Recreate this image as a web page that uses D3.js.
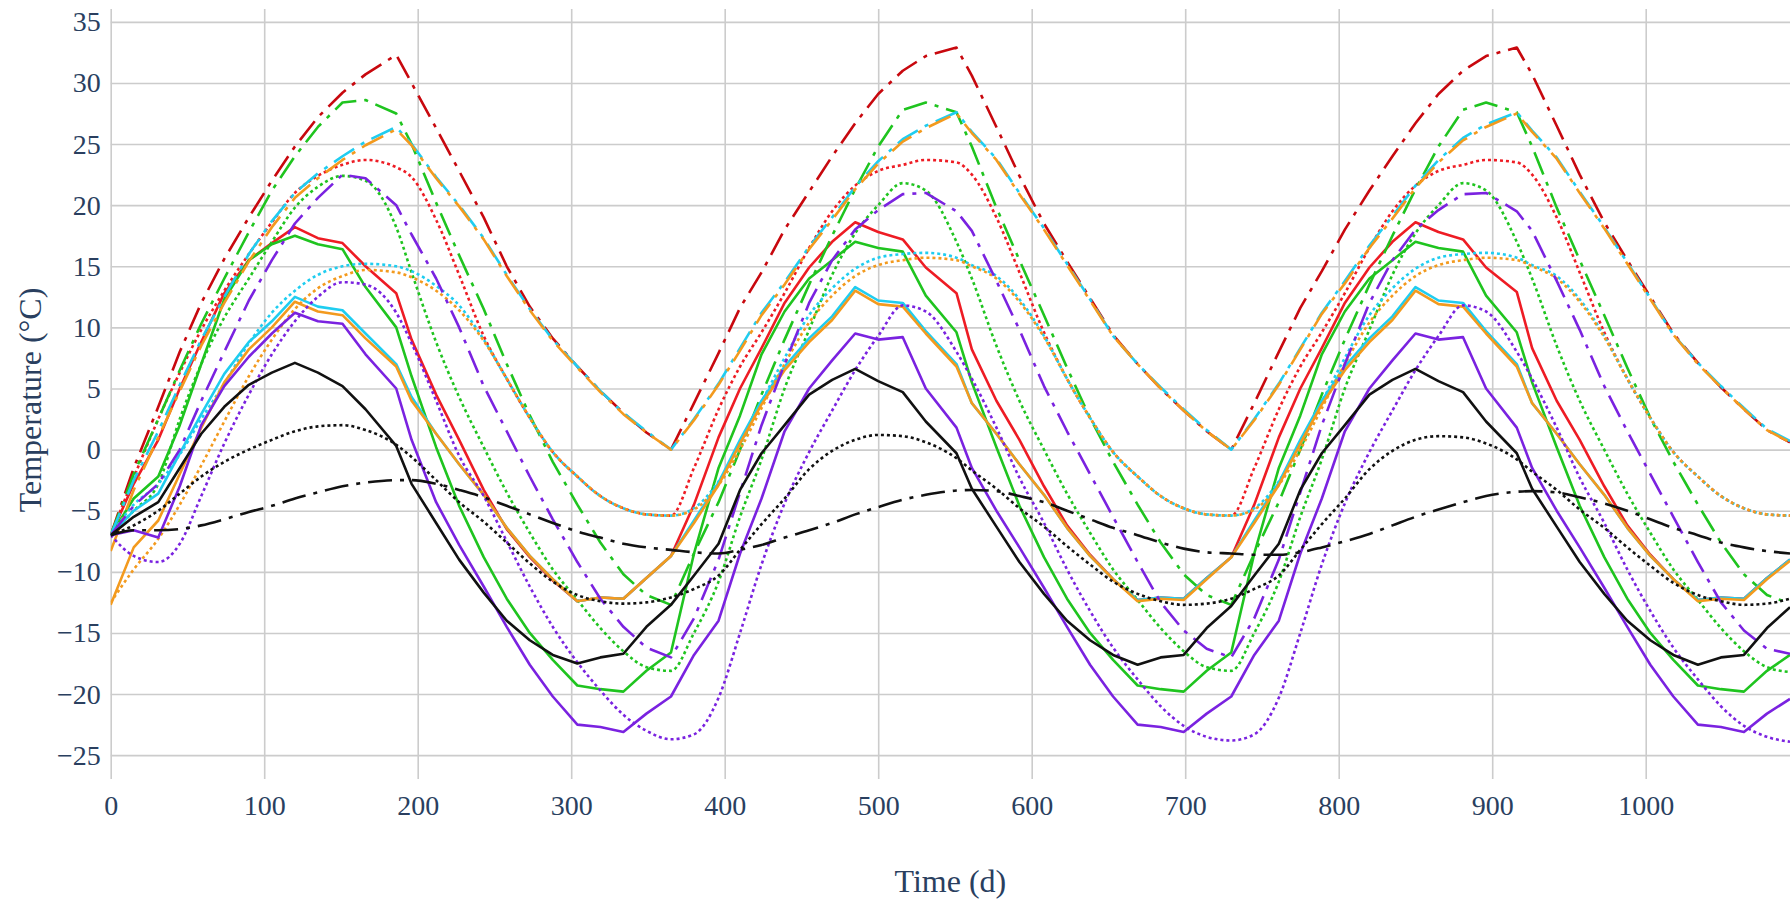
<!DOCTYPE html>
<html>
<head>
<meta charset="utf-8">
<script src="https://cdn.jsdelivr.net/npm/d3@7"></script>
<style>
  html, body { margin: 0; padding: 0; background: #ffffff; }
  svg { display: block; }
</style>
</head>
<body>
<svg id="chart" width="1790" height="902"></svg>
<script>
// Sample days (three annual cycles)
const days = [
  0, 15, 31, 45, 59, 74, 90, 105, 120, 135, 151, 166, 186, 196, 212, 227, 243, 258, 273, 288, 304, 319, 334, 349,
  365, 380, 396, 410, 424, 439, 455, 470, 485, 500, 516, 531, 551, 561, 577, 592, 608, 623, 638, 653, 669, 684, 699, 714,
  730, 745, 761, 775, 789, 804, 820, 835, 850, 865, 881, 896, 916, 926, 942, 957, 973, 988, 1003, 1018, 1034, 1049, 1064, 1079,
  1094
];

// Temperature series (°C)
const redSolid = [
  -7.0, -2.8, 0.8, 5.0, 8.8, 12.8, 15.5, 16.9, 18.2, 17.3, 16.9, 15.0, 12.8, 9.0, 4.5, 0.8, -3.3, -6.5, -8.8, -10.7, -12.4, -12.1, -12.2, -10.5,
  -8.7, -4.5, 1.0, 5.0, 8.3, 12.0, 14.9, 17.0, 18.6, 17.8, 17.2, 14.9, 12.8, 8.2, 4.0, 0.8, -3.0, -6.2, -8.6, -10.6, -12.3, -12.1, -12.2, -10.5,
  -8.8, -4.5, 1.0, 5.0, 8.3, 12.0, 14.9, 17.0, 18.6, 17.8, 17.2, 14.9, 12.9, 8.3, 4.0, 0.8, -3.0, -6.2, -8.6, -10.6, -12.3, -12.1, -12.2, -10.5,
  -9.0
];
const redDot = [
  -7.0, -2.3, 2.5, 6.3, 9.8, 13.0, 16.0, 18.6, 21.0, 22.4, 23.3, 23.7, 23.1, 22.3, 18.8, 14.3, 9.3, 5.8, 2.6, -0.2, -2.2, -3.8, -4.8, -5.3,
  -5.4, -1.5, 3.3, 6.8, 9.6, 12.8, 16.5, 19.5, 21.6, 22.8, 23.3, 23.7, 23.5, 22.5, 19.0, 14.5, 9.6, 5.8, 2.6, -0.2, -2.2, -3.8, -4.8, -5.3,
  -5.4, -1.5, 3.3, 6.8, 9.6, 12.8, 16.5, 19.5, 21.6, 22.8, 23.3, 23.7, 23.5, 22.5, 19.0, 14.5, 9.6, 5.8, 2.6, -0.2, -2.2, -3.8, -4.8, -5.3,
  -5.4
];
const redDashDot = [
  -7.0, -1.5, 3.5, 8.0, 12.0, 15.6, 19.0, 22.0, 24.8, 27.2, 29.2, 30.7, 32.3, 30.0, 26.3, 22.8, 19.0, 15.0, 11.7, 9.1, 6.8, 4.8, 3.0, 1.4,
  0.0, 3.8, 7.9, 11.6, 14.5, 18.0, 21.1, 24.0, 26.7, 29.1, 31.0, 32.2, 32.9, 30.6, 26.4, 22.4, 18.5, 15.4, 12.4, 9.4, 7.0, 5.0, 3.2, 1.5,
  0.0, 3.8, 8.0, 11.6, 14.6, 18.0, 21.2, 24.0, 26.7, 29.1, 31.0, 32.2, 32.9, 30.7, 26.5, 22.5, 18.6, 15.5, 12.5, 9.5, 7.1, 5.1, 3.3, 1.6,
  0.6
];
const greenSolid = [
  -7.0, -4.0, -2.2, 2.0, 7.0, 12.3, 15.5, 16.8, 17.5, 16.8, 16.4, 13.3, 10.0, 6.0, 0.2, -4.6, -8.8, -12.2, -15.0, -17.2, -19.3, -19.6, -19.8, -18.1,
  -16.6, -8.5, -1.5, 2.8, 7.8, 11.3, 14.0, 15.5, 17.0, 16.5, 16.2, 12.6, 9.6, 5.5, 0.2, -4.6, -8.8, -12.2, -15.0, -17.2, -19.3, -19.6, -19.8, -18.1,
  -16.6, -8.5, -1.5, 2.8, 7.8, 11.3, 14.0, 15.5, 17.0, 16.5, 16.2, 12.6, 9.6, 5.5, 0.2, -4.6, -8.8, -12.2, -15.0, -17.2, -19.3, -19.6, -19.8, -18.1,
  -16.8
];
const greenDot = [
  -7.0, -5.0, -2.8, 2.5, 7.0, 10.8, 14.0, 17.0, 19.8, 21.5, 22.4, 22.0, 18.2, 14.5, 8.8, 4.3, 0.2, -3.5, -6.8, -9.8, -12.3, -14.6, -16.5, -17.8,
  -18.1, -15.0, -10.8, -5.5, -0.8, 5.0, 9.8, 14.3, 17.7, 20.0, 21.8, 21.2, 17.0, 14.0, 8.5, 4.0, 0.0, -3.6, -6.8, -9.8, -12.3, -14.6, -16.5, -17.8,
  -18.1, -15.0, -10.8, -5.5, -0.8, 5.0, 9.8, 14.3, 17.7, 20.0, 21.8, 21.2, 17.0, 14.0, 8.5, 4.0, 0.0, -3.6, -6.8, -9.8, -12.3, -14.6, -16.5, -17.8,
  -18.2
];
const greenDashDot = [
  -7.0, -2.0, 2.5, 6.5, 10.3, 14.0, 17.8, 21.2, 24.0, 26.4, 28.4, 28.6, 27.5, 25.0, 20.2, 15.9, 11.5, 7.0, 2.8, -1.0, -4.5, -7.6, -10.2, -11.9,
  -12.7, -8.5, -4.3, 0.0, 4.5, 9.0, 13.5, 17.5, 21.3, 24.8, 27.8, 28.4, 27.6, 24.8, 19.8, 15.5, 11.0, 6.7, 2.6, -1.0, -4.5, -7.6, -10.2, -11.9,
  -12.7, -8.5, -4.3, 0.0, 4.5, 9.0, 13.5, 17.5, 21.3, 24.8, 27.8, 28.4, 27.6, 24.8, 19.8, 15.5, 11.0, 6.7, 2.6, -1.0, -4.5, -7.6, -10.2, -11.9,
  -12.6
];
const cyanSolid = [
  -7.0, -5.0, -3.6, -0.3, 2.9, 6.2, 8.8, 10.5, 12.5, 11.7, 11.4, 9.5, 7.0, 4.3, 1.3, -1.2, -3.7, -6.4, -8.7, -10.6, -12.4, -12.1, -12.2, -10.5,
  -8.7, -5.8, -2.7, 0.8, 4.0, 6.8, 9.1, 10.9, 13.3, 12.2, 12.0, 9.7, 7.0, 3.8, 1.3, -1.2, -3.7, -6.4, -8.7, -10.6, -12.3, -12.1, -12.2, -10.5,
  -8.8, -5.8, -2.7, 0.8, 4.0, 6.8, 9.1, 10.9, 13.3, 12.2, 12.0, 9.7, 7.0, 3.8, 1.3, -1.2, -3.7, -6.4, -8.7, -10.6, -12.3, -12.1, -12.2, -10.5,
  -9.0
];
const cyanDot = [
  -7.0, -4.5, -2.8, -0.4, 2.5, 5.4, 8.7, 11.2, 13.0, 14.3, 15.0, 15.2, 15.0, 14.6, 13.4, 11.8, 9.0, 5.8, 2.6, -0.2, -2.2, -3.8, -4.8, -5.3,
  -5.4, -4.8, -2.6, 0.4, 3.9, 7.5, 11.0, 13.2, 14.8, 15.7, 16.0, 16.1, 15.7, 15.1, 14.2, 12.3, 9.3, 5.8, 2.6, -0.2, -2.2, -3.8, -4.8, -5.3,
  -5.4, -4.8, -2.6, 0.4, 3.9, 7.5, 11.0, 13.2, 14.8, 15.7, 16.0, 16.1, 15.7, 15.1, 14.2, 12.3, 9.3, 5.8, 2.6, -0.2, -2.2, -3.8, -4.8, -5.3,
  -5.4
];
const cyanDashDot = [
  -7.0, -2.5, 1.5, 5.3, 9.0, 12.5, 16.0, 18.7, 21.0, 22.6, 24.0, 25.2, 26.4, 25.0, 22.3, 20.0, 17.3, 14.3, 11.5, 9.0, 6.8, 4.8, 3.0, 1.5,
  0.0, 2.5, 5.4, 8.3, 11.2, 13.7, 16.6, 19.0, 21.5, 23.6, 25.4, 26.5, 27.6, 26.0, 23.8, 21.0, 18.1, 15.2, 12.3, 9.3, 7.0, 5.1, 3.3, 1.6,
  0.0, 2.5, 5.4, 8.3, 11.2, 13.8, 16.7, 19.1, 21.6, 23.7, 25.5, 26.6, 27.6, 26.1, 23.9, 21.1, 18.2, 15.3, 12.4, 9.4, 7.1, 5.2, 3.4, 1.7,
  0.7
];
const orangeSolid = [
  -12.7, -8.0, -5.8, -2.0, 1.8, 5.5, 8.2, 10.0, 12.1, 11.3, 11.0, 9.1, 6.8, 4.0, 1.3, -1.2, -3.7, -6.4, -8.7, -10.6, -12.4, -12.1, -12.2, -10.5,
  -8.7, -6.0, -2.9, 0.5, 3.7, 6.5, 8.8, 10.6, 13.0, 11.9, 11.7, 9.5, 6.8, 3.8, 1.3, -1.2, -3.7, -6.4, -8.7, -10.6, -12.4, -12.2, -12.3, -10.6,
  -8.8, -6.0, -2.9, 0.5, 3.7, 6.5, 8.8, 10.6, 13.0, 11.9, 11.7, 9.5, 6.8, 3.8, 1.3, -1.2, -3.7, -6.4, -8.7, -10.6, -12.4, -12.2, -12.3, -10.6,
  -9.1
];
const orangeDot = [
  -12.5, -9.8, -7.3, -4.5, -1.3, 2.3, 6.0, 9.0, 11.5, 13.2, 14.2, 14.7, 14.5, 14.1, 13.0, 11.4, 8.9, 5.8, 2.6, -0.2, -2.2, -3.8, -4.8, -5.3,
  -5.4, -4.9, -2.9, 0.0, 3.4, 7.0, 10.4, 12.6, 14.2, 15.1, 15.5, 15.7, 15.5, 15.0, 14.0, 12.1, 9.2, 5.8, 2.6, -0.2, -2.2, -3.8, -4.8, -5.3,
  -5.4, -4.9, -2.9, 0.0, 3.4, 7.0, 10.4, 12.6, 14.2, 15.1, 15.5, 15.7, 15.5, 15.0, 14.0, 12.1, 9.2, 5.8, 2.6, -0.2, -2.2, -3.8, -4.8, -5.3,
  -5.4
];
const orangeDashDot = [
  -8.3, -3.3, 1.0, 4.8, 8.5, 12.0, 15.4, 18.2, 20.6, 22.2, 23.7, 24.9, 26.2, 24.9, 22.2, 19.9, 17.2, 14.2, 11.4, 8.9, 6.7, 4.7, 2.9, 1.4,
  0.0, 2.4, 5.3, 8.1, 11.0, 13.5, 16.4, 18.8, 21.3, 23.4, 25.2, 26.3, 27.5, 25.9, 23.7, 20.9, 18.0, 15.1, 12.2, 9.3, 7.0, 5.0, 3.2, 1.5,
  0.0, 2.4, 5.3, 8.2, 11.1, 13.6, 16.5, 18.9, 21.4, 23.5, 25.3, 26.4, 27.5, 26.0, 23.8, 21.0, 18.1, 15.2, 12.3, 9.4, 7.0, 5.1, 3.3, 1.6,
  0.6
];
const purpleSolid = [
  -7.0, -6.6, -7.2, -3.0, 2.0, 5.2, 7.6, 9.5, 11.2, 10.5, 10.3, 7.8, 5.0, 0.8, -4.3, -7.8, -11.2, -14.5, -17.6, -20.2, -22.5, -22.7, -23.1, -21.6,
  -20.2, -16.8, -14.0, -8.5, -4.0, 1.5, 5.0, 7.3, 9.5, 9.0, 9.2, 5.0, 1.8, -1.5, -5.0, -8.0, -11.3, -14.5, -17.6, -20.2, -22.5, -22.7, -23.1, -21.6,
  -20.2, -16.8, -14.0, -8.5, -4.0, 1.5, 5.0, 7.3, 9.5, 9.0, 9.2, 5.0, 1.8, -1.5, -5.0, -8.0, -11.3, -14.5, -17.6, -20.2, -22.5, -22.7, -23.1, -21.6,
  -20.4
];
const purpleDot = [
  -7.0, -8.7, -9.2, -7.7, -3.8, 0.5, 4.5, 7.8, 10.5, 12.5, 13.7, 13.5, 11.2, 8.7, 4.0, -0.5, -3.8, -7.5, -11.2, -14.5, -17.4, -19.7, -21.7, -23.0,
  -23.7, -23.3, -20.3, -15.0, -9.4, -4.4, -0.2, 3.2, 6.5, 9.3, 11.8, 11.3, 8.0, 5.8, 1.8, -2.3, -6.0, -9.8, -13.2, -16.2, -18.8, -21.0, -22.6, -23.5,
  -23.8, -23.3, -20.3, -15.0, -9.4, -4.4, -0.2, 3.2, 6.5, 9.3, 11.8, 11.3, 8.0, 5.8, 1.8, -2.3, -6.0, -9.8, -13.2, -16.2, -18.8, -21.0, -22.6, -23.5,
  -23.9
];
const purpleDashDot = [
  -7.0, -4.6, -2.8, 0.0, 4.0, 8.0, 12.2, 15.5, 18.5, 20.6, 22.5, 22.2, 20.0, 17.6, 14.0, 10.0, 5.2, 1.5, -2.2, -5.7, -9.2, -12.2, -14.5, -16.2,
  -17.0, -13.8, -9.0, -3.5, 2.0, 7.0, 12.0, 15.5, 18.0, 19.6, 20.9, 21.0, 19.5, 17.9, 13.8, 9.8, 5.2, 1.5, -2.0, -5.5, -9.2, -12.5, -14.8, -16.3,
  -17.0, -13.8, -9.0, -3.5, 2.0, 7.0, 12.0, 15.5, 18.0, 19.6, 20.9, 21.0, 19.5, 17.9, 13.8, 9.8, 5.2, 1.5, -2.0, -5.5, -9.2, -12.5, -14.8, -16.3,
  -16.7
];
const blackSolid = [
  -7.0, -5.5, -4.3, -1.5, 1.3, 3.5, 5.3, 6.3, 7.1, 6.3, 5.2, 3.3, 0.3, -2.8, -6.0, -9.0, -11.7, -14.0, -15.6, -16.8, -17.5, -17.0, -16.7, -14.5,
  -12.7, -10.3, -7.7, -3.3, -0.3, 2.0, 4.5, 5.7, 6.6, 5.6, 4.7, 2.3, -0.3, -3.2, -6.3, -9.2, -11.8, -14.0, -15.6, -16.8, -17.6, -17.0, -16.8, -14.6,
  -12.8, -10.3, -7.7, -3.3, -0.3, 2.0, 4.5, 5.7, 6.6, 5.6, 4.7, 2.3, -0.3, -3.2, -6.3, -9.2, -11.8, -14.0, -15.6, -16.8, -17.6, -17.0, -16.8, -14.6,
  -12.9
];
const blackDot = [
  -7.0, -6.2, -5.0, -3.6, -2.2, -1.0, 0.0, 0.8, 1.5, 1.9, 2.0, 1.6, 0.4, -0.6, -2.5, -4.3, -5.9, -7.6, -9.3, -10.8, -11.9, -12.4, -12.6, -12.5,
  -12.1, -11.4, -10.3, -8.2, -6.1, -4.0, -1.6, -0.1, 0.8, 1.2, 1.1, 0.6, -0.7, -1.7, -3.2, -4.8, -6.3, -7.9, -9.4, -10.8, -11.8, -12.4, -12.7, -12.6,
  -12.2, -11.4, -10.3, -8.2, -6.1, -4.0, -1.6, -0.1, 0.8, 1.1, 1.0, 0.5, -0.8, -1.8, -3.3, -4.9, -6.4, -8.0, -9.5, -10.9, -11.9, -12.4, -12.7, -12.6,
  -12.2
];
const blackDashDot = [
  -7.0, -6.6, -6.6, -6.5, -6.2, -5.7, -5.1, -4.6, -4.0, -3.5, -3.0, -2.7, -2.5, -2.5, -2.8, -3.3, -3.9, -4.6, -5.3, -6.0, -6.7, -7.2, -7.7, -8.0,
  -8.2, -8.4, -8.5, -8.2, -7.8, -7.2, -6.6, -6.0, -5.3, -4.7, -4.1, -3.7, -3.35, -3.3, -3.4, -3.8, -4.3, -5.0, -5.7, -6.4, -7.0, -7.6, -8.1, -8.4,
  -8.5, -8.6, -8.6, -8.4, -8.0, -7.5, -6.9, -6.2, -5.5, -4.9, -4.3, -3.8, -3.45, -3.4, -3.5, -3.9, -4.4, -5.0, -5.7, -6.4, -7.0, -7.6, -8.0, -8.3,
  -8.5
];

// Axis ticks
const xTicks = [0, 100, 200, 300, 400, 500, 600, 700, 800, 900, 1000];
const yTicks = [-25, -20, -15, -10, -5, 0, 5, 10, 15, 20, 25, 30, 35];

// Line styles
const RED = "#ee1c24", RED_DARK = "#c8080e", GREEN = "#1fc41f", CYAN = "#1fcdf0",
      ORANGE = "#f39a1e", PURPLE = "#7a22e0", BLACK = "#111111";
const SOLID = null, DOT = "3,3", LONGDASHDOT = "24,8,4,8";

// smooth: draw with a monotone curve (gradual profiles); others keep straight segments
const seriesList = [
  { values: redSolid,      color: RED,      dash: SOLID,       smooth: false },
  { values: redDot,        color: RED,      dash: DOT,         smooth: true },
  { values: redDashDot,    color: RED_DARK, dash: LONGDASHDOT, smooth: false },
  { values: greenSolid,    color: GREEN,    dash: SOLID,       smooth: false },
  { values: greenDot,      color: GREEN,    dash: DOT,         smooth: true },
  { values: greenDashDot,  color: GREEN,    dash: LONGDASHDOT, smooth: false },
  { values: cyanSolid,     color: CYAN,     dash: SOLID,       smooth: false },
  { values: cyanDot,       color: CYAN,     dash: DOT,         smooth: true },
  { values: cyanDashDot,   color: CYAN,     dash: LONGDASHDOT, smooth: false },
  { values: orangeSolid,   color: ORANGE,   dash: SOLID,       smooth: false },
  { values: orangeDot,     color: ORANGE,   dash: DOT,         smooth: true },
  { values: orangeDashDot, color: ORANGE,   dash: LONGDASHDOT, smooth: false },
  { values: purpleSolid,   color: PURPLE,   dash: SOLID,       smooth: false },
  { values: purpleDot,     color: PURPLE,   dash: DOT,         smooth: true },
  { values: purpleDashDot, color: PURPLE,   dash: LONGDASHDOT, smooth: false },
  { values: blackSolid,    color: BLACK,    dash: SOLID,       smooth: false },
  { values: blackDot,      color: BLACK,    dash: DOT,         smooth: true },
  { values: blackDashDot,  color: BLACK,    dash: LONGDASHDOT, smooth: true }
];

// Layout
const W = 1790, H = 902;
const plot = { left: 110.7, right: 1790, top: 9, bottom: 779 };
const FONT = "'Liberation Serif', 'Times New Roman', serif";
const TEXT = "#2a3f5f";

const svg = d3.select("#chart");
svg.append("rect").attr("width", W).attr("height", H).attr("fill", "#ffffff");

const x = d3.scaleLinear().domain([0, 1094]).range([plot.left, plot.right]);
const y = d3.scaleLinear().domain([-26.95, 36.05]).range([plot.bottom, plot.top]);

// Grid
const grid = svg.append("g");
grid.append("g")
  .attr("transform", `translate(0,${plot.bottom})`)
  .call(d3.axisBottom(x).tickValues(xTicks).tickSize(-(plot.bottom - plot.top)).tickFormat(""))
  .call(g => g.select(".domain").remove())
  .call(g => g.selectAll("line").attr("stroke", "#cccccc").attr("stroke-width", 1.6));
grid.append("g")
  .attr("transform", `translate(${plot.left},0)`)
  .call(d3.axisLeft(y).tickValues(yTicks).tickSize(-(plot.right - plot.left)).tickFormat(""))
  .call(g => g.select(".domain").remove())
  .call(g => g.selectAll("line").attr("stroke", "#cccccc").attr("stroke-width", 1.6));

// Lines
svg.append("clipPath").attr("id", "plotClip")
  .append("rect")
  .attr("x", plot.left).attr("y", plot.top)
  .attr("width", plot.right - plot.left).attr("height", plot.bottom - plot.top);

const straight = d3.line().x(d => x(d[0])).y(d => y(d[1]));
const curved = d3.line().x(d => x(d[0])).y(d => y(d[1])).curve(d3.curveMonotoneX);
const lines = svg.append("g").attr("clip-path", "url(#plotClip)");
seriesList.forEach(s => {
  lines.append("path")
    .datum(days.map((d, i) => [d, s.values[i]]))
    .attr("fill", "none")
    .attr("stroke", s.color)
    .attr("stroke-width", 2.6)
    .attr("stroke-linejoin", "round")
    .attr("stroke-dasharray", s.dash)
    .attr("d", s.smooth ? curved : straight);
});

// Tick labels
const fmt = d3.format("d");
const xAxis = svg.append("g")
  .attr("transform", `translate(0,${plot.bottom})`)
  .call(d3.axisBottom(x).tickValues(xTicks).tickSize(0).tickPadding(0).tickFormat(fmt));
xAxis.select(".domain").remove();
xAxis.selectAll("text")
  .attr("font-family", FONT).attr("font-size", 28).attr("fill", TEXT)
  .attr("dy", null).attr("y", 36);

const yAxis = svg.append("g")
  .attr("transform", `translate(${plot.left},0)`)
  .call(d3.axisLeft(y).tickValues(yTicks).tickSize(0).tickPadding(10).tickFormat(fmt));
yAxis.select(".domain").remove();
yAxis.selectAll("text")
  .attr("font-family", FONT).attr("font-size", 28).attr("fill", TEXT);

// Axis titles
svg.append("text")
  .attr("x", (plot.left + plot.right) / 2)
  .attr("y", 892)
  .attr("text-anchor", "middle")
  .attr("font-family", FONT).attr("font-size", 32).attr("fill", TEXT)
  .text("Time (d)");

svg.append("text")
  .attr("transform", `translate(41,${(plot.top + plot.bottom) / 2 + 6}) rotate(-90)`)
  .attr("text-anchor", "middle")
  .attr("font-family", FONT).attr("font-size", 32).attr("fill", TEXT)
  .text("Temperature (°C)");
</script>
</body>
</html>
